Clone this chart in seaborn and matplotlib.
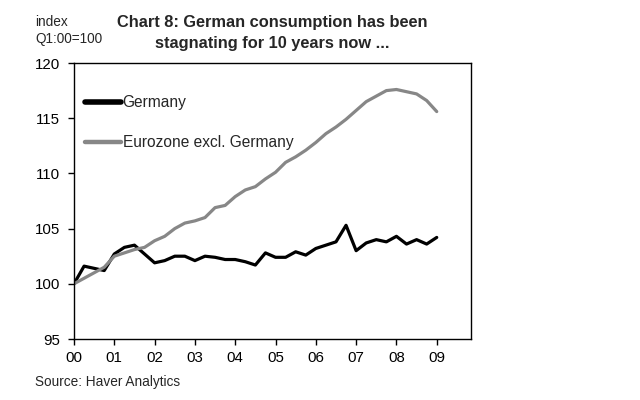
import numpy as np
import pandas as pd
import matplotlib
matplotlib.use("Agg")
import matplotlib.pyplot as plt
import seaborn as sns

# Quarterly index, Q1 2000 = 100 (quarter 0 = Q1 2000 ... quarter 36 = Q1 2009)
germany = [100.0, 101.6, 101.4, 101.2, 102.7, 103.3, 103.5, 102.7, 101.9, 102.1,
           102.5, 102.5, 102.1, 102.5, 102.4, 102.2, 102.2, 102.0, 101.7, 102.8,
           102.4, 102.4, 102.9, 102.6, 103.2, 103.5, 103.8, 105.3, 103.0, 103.7,
           104.0, 103.8, 104.3, 103.6, 104.0, 103.6, 104.2]
eurozone_ex_de = [100.0, 100.5, 101.0, 101.5, 102.5, 102.8, 103.1, 103.3, 103.9, 104.3,
                  105.0, 105.5, 105.7, 106.0, 106.9, 107.1, 107.9, 108.5, 108.8, 109.5,
                  110.1, 111.0, 111.5, 112.1, 112.8, 113.6, 114.2, 114.9, 115.7, 116.5,
                  117.0, 117.5, 117.6, 117.4, 117.2, 116.6, 115.6]
year_labels = ["00", "01", "02", "03", "04", "05", "06", "07", "08", "09"]
series_names = ["Germany", "Eurozone excl. Germany"]

quarters = np.arange(len(germany))
df = pd.DataFrame({
    "quarter": np.concatenate([quarters, quarters]),
    "value": germany + eurozone_ex_de,
    "series": [series_names[0]] * len(germany) + [series_names[1]] * len(eurozone_ex_de),
})

sns.set_style("white")
plt.rcParams["font.family"] = ["Liberation Sans", "DejaVu Sans"]

fig = plt.figure(figsize=(6.4, 4.0), dpi=100)
ax = fig.add_axes([74 / 640, 1 - 339 / 400, (471 - 74) / 640, (339 - 63) / 400])

palette = {series_names[0]: "#000000", series_names[1]: "#878787"}
sns.lineplot(data=df, x="quarter", y="value", hue="series", palette=palette,
             linewidth=2.3, ax=ax, legend=True)

ax.set_xlim(0, 39.4)
ax.set_ylim(95, 120)
ax.set_yticks([95, 100, 105, 110, 115, 120])
ax.set_xticks(np.arange(0, len(year_labels) * 4, 4))
ax.set_xticklabels(year_labels)
ax.set_xlabel("")
ax.set_ylabel("")
ax.tick_params(axis="both", direction="out", length=4, width=1, color="black",
               labelsize=10.8, labelcolor="black", bottom=True, left=True)
ax.tick_params(axis="y", pad=6.0)
ax.tick_params(axis="x", pad=4.5)
for s in ax.spines.values():
    s.set_visible(True)
    s.set_color("black")
    s.set_linewidth(1.0)

leg = ax.legend(loc="upper left", bbox_to_anchor=(0.012, 0.905), frameon=False,
                fontsize=11.2, handlelength=2.3, handletextpad=0.12,
                labelspacing=1.6, borderaxespad=0)
for line, w in zip(leg.get_lines(), [4.0, 3.2]):
    line.set_linewidth(w)

fig.text(272 / 640, 1 - 27 / 400, "Chart 8: German consumption has been",
         ha="center", va="baseline", fontsize=11.75, fontweight="bold")
fig.text(272 / 640, 1 - 48 / 400, "stagnating for 10 years now ...",
         ha="center", va="baseline", fontsize=11.75, fontweight="bold")
fig.text(35 / 640, 1 - 26 / 400, "index", ha="left", va="baseline", fontsize=9.8)
fig.text(35 / 640, 1 - 43 / 400, "Q1:00=100", ha="left", va="baseline", fontsize=9.8)
fig.text(35 / 640, 1 - 386 / 400, "Source: Haver Analytics", ha="left", va="baseline",
         fontsize=9.8)

fig.savefig("out.png", dpi=100)
